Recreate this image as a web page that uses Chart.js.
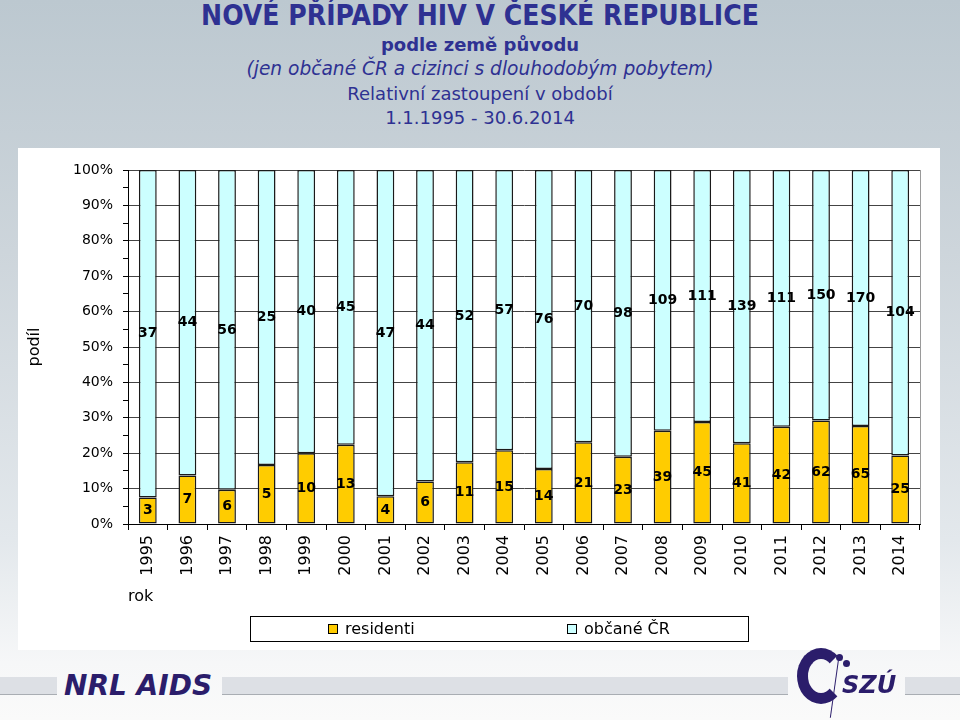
<!DOCTYPE html>
<html lang="cs">
<head>
<meta charset="utf-8">
<title>Nové případy HIV v ČR podle země původu</title>
<script src="https://cdn.jsdelivr.net/npm/chart.js@4.4.1/dist/chart.umd.min.js"></script>
<style>
  html, body { margin: 0; padding: 0; }
  body {
    width: 960px; height: 720px; position: relative; overflow: hidden;
    font-family: "DejaVu Sans", Verdana, sans-serif;
    background: linear-gradient(to bottom, #bcc8d0 0%, #cdd5db 35%, #e3e8ec 75%, #f6f7f8 92%, #fafafa 100%);
  }
  .line { position: absolute; left: 0; width: 960px; text-align: center; color: #2e3192; white-space: nowrap; }
  .l1 { top: 0px; font: bold 28px/32px "DejaVu Sans Condensed", "DejaVu Sans", sans-serif; }
  .l2 { top: 33px; font: bold 18px/24px "DejaVu Sans", sans-serif; }
  .l3 { top: 57px; font: italic 18.6px/24px "DejaVu Sans", sans-serif; }
  .l4 { top: 82px; font: 18px/24px "DejaVu Sans", sans-serif; }
  .l5 { top: 106px; font: 18px/24px "DejaVu Sans", sans-serif; }
  .panel { position: absolute; left: 18px; top: 148px; width: 922px; height: 502px; background: #fff; }
  .band { position: absolute; top: 677px; height: 17px; background: #dde0e5; border-bottom: 1px solid #a9adb3; }
  .nrl { position: absolute; left: 64px; top: 668px; font: italic bold 28px/36px "DejaVu Sans", sans-serif; color: #2b1d6b; }
  .szu-c { position: absolute; left: 797px; top: 648px; width: 26px; height: 34px; border: 11px solid #2b1d6b; border-right-color: transparent; border-radius: 50%; }
  .szu-dot { position: absolute; width: 7px; height: 7px; border-radius: 50%; background: #2b1d6b; }
  .szu-line { position: absolute; left: 834px; top: 658px; width: 1px; height: 60px; background: #2b1d6b; transform: rotate(8deg); }
  .szu { position: absolute; left: 842px; top: 670px; font: italic bold 24px/30px "DejaVu Sans", sans-serif; color: #2b1d6b; }
</style>
</head>
<body>
<div class="line l1">NOVÉ PŘÍPADY HIV V ČESKÉ REPUBLICE</div>
<div class="line l2">podle země původu</div>
<div class="line l3">(jen občané ČR a cizinci s dlouhodobým pobytem)</div>
<div class="line l4">Relativní zastoupení v období</div>
<div class="line l5">1.1.1995 - 30.6.2014</div>

<div class="panel"><canvas id="hivChart" width="922" height="502"></canvas></div>

<div class="band" style="left:0;width:57px"></div>
<div class="band" style="left:222px;width:566px"></div>
<div class="band" style="left:905px;width:55px"></div>
<div class="nrl">NRL AIDS</div>
<div class="szu-c"></div>
<div class="szu-dot" style="left:836px;top:654px"></div>
<div class="szu-dot" style="left:843px;top:660px"></div>
<div class="szu-line"></div>
<div class="szu">SZÚ</div>

<script>
const years = ["1995", "1996", "1997", "1998", "1999", "2000", "2001", "2002", "2003", "2004",
               "2005", "2006", "2007", "2008", "2009", "2010", "2011", "2012", "2013", "2014"];
const residents = [3, 7, 6, 5, 10, 13, 4, 6, 11, 15, 14, 21, 23, 39, 45, 41, 42, 62, 65, 25];
const citizens = [37, 44, 56, 25, 40, 45, 47, 44, 52, 57, 76, 70, 98, 109, 111, 139, 111, 150, 170, 104];

// share of each group in the year's total (100% stacked)
const totals = residents.map((r, i) => r + citizens[i]);
const residentsPct = residents.map((r, i) => r / totals[i] * 100);
const citizensPct = citizens.map((c, i) => c / totals[i] * 100);

Chart.defaults.font.family = '"DejaVu Sans", Verdana, sans-serif';
Chart.defaults.color = "#000";

// raw counts written in the middle of every segment
const segmentLabels = {
    id: "segmentLabels",
    afterDatasetsDraw(chart) {
        const ctx = chart.ctx;
        ctx.save();
        ctx.font = 'bold 14px "DejaVu Sans", sans-serif';
        ctx.fillStyle = "#000";
        ctx.textAlign = "center";
        ctx.textBaseline = "middle";
        chart.data.datasets.forEach((ds, di) => {
            chart.getDatasetMeta(di).data.forEach((bar, i) => {
                ctx.fillText(String(ds.counts[i]), bar.x, (bar.y + bar.base) / 2);
            });
        });
        ctx.restore();
    }
};

// plot frame on the right and the boxed legend under the axis
const frameAndLegend = {
    id: "frameAndLegend",
    afterDraw(chart) {
        const { ctx, chartArea } = chart;
        ctx.save();
        ctx.strokeStyle = "#9a9a9a";
        ctx.lineWidth = 1;
        ctx.beginPath();
        ctx.moveTo(chartArea.right + 0.5, chartArea.top);
        ctx.lineTo(chartArea.right + 0.5, chartArea.bottom);
        ctx.stroke();

        const left = chartArea.left + 122;
        const top = chartArea.bottom + 92;
        ctx.strokeStyle = "#000";
        ctx.strokeRect(left + 0.5, top + 0.5, 498, 25);
        ctx.font = '16px "DejaVu Sans", sans-serif';
        ctx.textBaseline = "middle";
        const itemX = [left + 78, left + 317];
        chart.data.datasets.forEach((ds, i) => {
            ctx.fillStyle = ds.backgroundColor;
            ctx.fillRect(itemX[i], top + 8, 10, 10);
            ctx.strokeStyle = "#000";
            ctx.strokeRect(itemX[i] + 0.5, top + 8.5, 9, 9);
            ctx.fillStyle = "#000";
            ctx.fillText(ds.label, itemX[i] + 17, top + 13.5);
        });
        ctx.restore();
    }
};

new Chart(document.getElementById("hivChart"), {
    type: "bar",
    data: {
        labels: years,
        datasets: [
            {
                label: "residenti",
                data: residentsPct,
                counts: residents,
                backgroundColor: "#ffcc00",
                borderColor: "#1a1a1a",
                borderWidth: 1.5,
                borderSkipped: false
            },
            {
                label: "občané ČR",
                data: citizensPct,
                counts: citizens,
                backgroundColor: "#ccffff",
                borderColor: "#1a1a1a",
                borderWidth: 1.5,
                borderSkipped: false
            }
        ]
    },
    options: {
        responsive: false,
        animation: false,
        layout: { padding: { left: 0, right: 20, top: 22, bottom: 0 } },
        datasets: { bar: { barPercentage: 0.45, categoryPercentage: 1 } },
        plugins: {
            legend: { display: false },
            tooltip: { enabled: false }
        },
        scales: {
            x: {
                stacked: true,
                afterFit(scale) { scale.height = 126; },
                ticks: { font: { size: 16 }, minRotation: 90, maxRotation: 90, padding: 5, autoSkip: false },
                grid: { drawOnChartArea: false, tickLength: 6, tickColor: "#000", offset: true },
                border: { color: "#000" },
                title: { display: true, text: "rok", align: "start", font: { size: 16 }, padding: { top: 0, bottom: 44 } }
            },
            y: {
                stacked: true,
                min: 0,
                max: 100,
                afterFit(scale) { scale.width = 110; },
                ticks: {
                    stepSize: 5,
                    autoSkip: false,
                    padding: 10,
                    font: { size: 14 },
                    callback: (v) => (v % 10 === 0 ? v + "%" : "")
                },
                grid: {
                    color: (c) => (c.tick && c.tick.value % 10 === 0 ? "#444" : "rgba(0,0,0,0)"),
                    tickColor: "#000",
                    tickLength: 5
                },
                border: { color: "#000" },
                title: { display: true, text: "podíl", font: { size: 16 }, padding: { top: 7, bottom: 0 } }
            }
        }
    },
    plugins: [segmentLabels, frameAndLegend]
});
</script>
</body>
</html>
